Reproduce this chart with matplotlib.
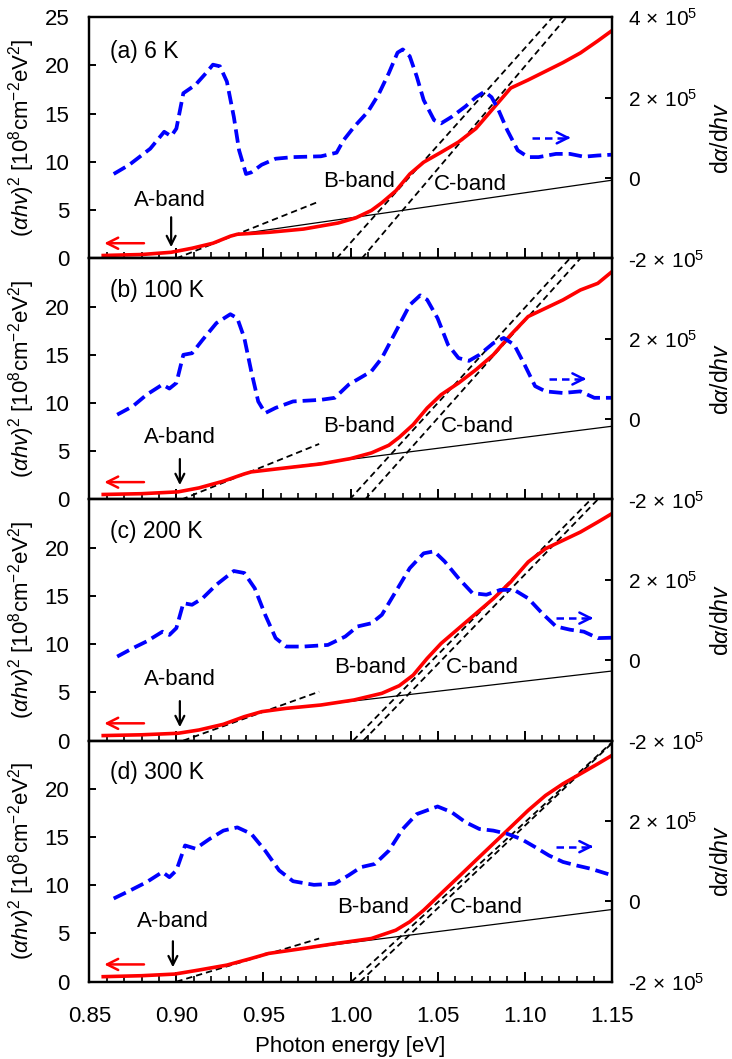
import matplotlib
matplotlib.use('Agg')
import matplotlib.pyplot as plt
from matplotlib.ticker import MultipleLocator, FormatStrFormatter

plt.rcParams['font.family'] = ['Liberation Sans', 'DejaVu Sans']
plt.rcParams['mathtext.fontset'] = 'custom'
plt.rcParams['mathtext.rm'] = 'Liberation Sans'
plt.rcParams['mathtext.it'] = 'Liberation Sans:italic'
plt.rcParams['mathtext.bf'] = 'Liberation Sans:bold'

# ---------------- data ----------------
panel_labels = ['(a) 6 K', '(b) 100 K', '(c) 200 K', '(d) 300 K']
band_labels = ['A-band', 'B-band', 'C-band']

# (alpha h nu)^2 curves [1e8 cm^-2 eV^2]
red_x_a = [0.858, 0.880, 0.897, 0.909, 0.921, 0.931, 0.935, 0.953, 0.973, 0.993, 1.003, 1.012, 1.018, 1.026,
           1.034, 1.042, 1.052, 1.062, 1.072, 1.082, 1.092, 1.102, 1.112, 1.122, 1.132, 1.142, 1.150]
red_y_a = [0.30, 0.40, 0.63, 1.05, 1.57, 2.30, 2.50, 2.70, 3.04, 3.67, 4.20, 4.97, 5.77, 7.00,
           8.74, 9.97, 11.00, 12.06, 13.46, 15.56, 17.66, 18.50, 19.40, 20.30, 21.30, 22.55, 23.60]
red_x_b = [0.858, 0.880, 0.901, 0.913, 0.927, 0.939, 0.943, 0.963, 0.983, 1.000, 1.012, 1.022, 1.028, 1.036,
           1.044, 1.052, 1.062, 1.072, 1.082, 1.092, 1.102, 1.112, 1.122, 1.132, 1.142, 1.150]
red_y_b = [0.52, 0.60, 0.79, 1.20, 1.90, 2.65, 2.86, 3.28, 3.69, 4.24, 4.83, 5.62, 6.45, 7.76,
           9.48, 10.86, 12.07, 13.45, 15.00, 17.07, 18.97, 19.83, 20.69, 21.72, 22.41, 23.60]
red_x_c = [0.858, 0.880, 0.901, 0.913, 0.927, 0.939, 0.949, 0.963, 0.983, 1.002, 1.018, 1.028, 1.036, 1.044,
           1.052, 1.062, 1.072, 1.082, 1.092, 1.102, 1.112, 1.122, 1.132, 1.142, 1.150]
red_y_c = [0.52, 0.60, 0.76, 1.10, 1.69, 2.48, 3.00, 3.34, 3.69, 4.21, 4.90, 5.69, 6.79, 8.52,
           10.07, 11.62, 13.17, 14.72, 16.45, 18.52, 19.90, 20.76, 21.62, 22.66, 23.52]
red_x_d = [0.858, 0.880, 0.899, 0.913, 0.929, 0.943, 0.953, 0.973, 0.992, 1.012, 1.026, 1.034, 1.042, 1.052,
           1.062, 1.072, 1.082, 1.092, 1.102, 1.112, 1.122, 1.132, 1.142, 1.150]
red_y_d = [0.52, 0.62, 0.79, 1.21, 1.72, 2.41, 2.93, 3.45, 3.97, 4.48, 5.34, 6.21, 7.41, 9.14,
           10.86, 12.59, 14.31, 16.03, 17.76, 19.31, 20.52, 21.55, 22.59, 23.45]

# d(alpha)/d(h nu) curves [1e5]
blue_x_a = [0.864, 0.873, 0.885, 0.893, 0.897, 0.900, 0.904, 0.911, 0.917, 0.921, 0.925, 0.929, 0.933, 0.936,
            0.940, 0.943, 0.949, 0.957, 0.967, 0.983, 0.992, 0.996, 1.002, 1.010, 1.016, 1.022, 1.027, 1.030,
            1.034, 1.038, 1.042, 1.048, 1.052, 1.058, 1.066, 1.072, 1.077, 1.081, 1.085, 1.090, 1.096, 1.102,
            1.108, 1.118, 1.126, 1.134, 1.142, 1.150]
blue_y_a = [0.10, 0.33, 0.73, 1.15, 1.04, 1.23, 2.11, 2.32, 2.61, 2.82, 2.78, 2.40, 1.52, 0.69,
            0.10, 0.14, 0.33, 0.48, 0.52, 0.54, 0.63, 0.94, 1.27, 1.65, 2.07, 2.61, 3.12, 3.20,
            3.03, 2.53, 1.94, 1.44, 1.36, 1.52, 1.78, 2.01, 2.15, 2.01, 1.69, 1.19, 0.69, 0.52,
            0.52, 0.60, 0.60, 0.53, 0.56, 0.58]
blue_x_b = [0.866, 0.875, 0.883, 0.892, 0.896, 0.900, 0.904, 0.909, 0.915, 0.923, 0.931, 0.935, 0.939, 0.943,
            0.947, 0.951, 0.957, 0.967, 0.983, 0.991, 0.999, 1.012, 1.018, 1.026, 1.034, 1.040, 1.044, 1.050,
            1.056, 1.062, 1.068, 1.074, 1.082, 1.088, 1.094, 1.100, 1.106, 1.112, 1.122, 1.132, 1.140, 1.150]
blue_y_b = [0.11, 0.32, 0.61, 0.86, 0.76, 0.90, 1.60, 1.64, 1.97, 2.39, 2.61, 2.51, 2.02, 1.19,
            0.44, 0.15, 0.28, 0.44, 0.48, 0.53, 0.86, 1.19, 1.52, 2.18, 2.84, 3.08, 2.97, 2.51,
            1.85, 1.52, 1.45, 1.60, 1.89, 2.02, 1.85, 1.35, 0.82, 0.69, 0.65, 0.69, 0.53, 0.53]
blue_x_c = [0.866, 0.875, 0.883, 0.892, 0.896, 0.900, 0.904, 0.909, 0.915, 0.923, 0.933, 0.939, 0.945, 0.951,
            0.957, 0.963, 0.973, 0.987, 0.997, 1.004, 1.012, 1.018, 1.026, 1.034, 1.042, 1.048, 1.054, 1.062,
            1.070, 1.078, 1.086, 1.094, 1.102, 1.110, 1.118, 1.126, 1.134, 1.142, 1.150]
blue_y_c = [0.09, 0.30, 0.47, 0.71, 0.63, 0.80, 1.42, 1.38, 1.54, 1.88, 2.22, 2.17, 1.79, 1.13,
            0.55, 0.34, 0.34, 0.38, 0.59, 0.84, 0.92, 1.13, 1.71, 2.29, 2.66, 2.71, 2.46, 2.04,
            1.67, 1.63, 1.75, 1.75, 1.54, 1.17, 0.84, 0.76, 0.71, 0.55, 0.56]
blue_x_d = [0.864, 0.873, 0.883, 0.892, 0.896, 0.900, 0.905, 0.911, 0.919, 0.927, 0.935, 0.943, 0.951, 0.959,
            0.967, 0.979, 0.991, 0.999, 1.006, 1.014, 1.022, 1.030, 1.038, 1.050, 1.058, 1.066, 1.074, 1.082,
            1.090, 1.098, 1.106, 1.114, 1.122, 1.130, 1.138, 1.150]
blue_y_d = [0.07, 0.26, 0.48, 0.73, 0.60, 0.77, 1.39, 1.31, 1.55, 1.76, 1.84, 1.68, 1.26, 0.77,
            0.50, 0.41, 0.44, 0.65, 0.85, 0.93, 1.26, 1.80, 2.17, 2.36, 2.22, 1.97, 1.80, 1.76,
            1.68, 1.55, 1.35, 1.14, 0.98, 0.89, 0.81, 0.65]

# fitted straight lines: (x0, y0, x1, y1)
fitA = [(0.900, 0.0, 0.982, 5.90), (0.903, 0.0, 0.982, 5.76), (0.904, 0.0, 0.982, 5.07), (0.900, 0.0, 0.982, 4.48)]
base = [(0.933, 2.45, 1.150, 8.10), (0.943, 2.86, 1.150, 7.59), (0.949, 3.00, 1.150, 7.21), (0.951, 2.93, 1.150, 7.48)]
fitB = [(0.992, 0.0, 1.116, 25.0), (0.9995, 0.0, 1.126, 25.0), (1.0015, 0.0, 1.138, 25.0), (1.0005, 0.0, 1.150, 24.8)]
fitC = [(1.0065, 0.0, 1.124, 25.0), (1.0084, 0.0, 1.132, 25.0), (1.0074, 0.0, 1.142, 25.0), (1.0055, 0.0, 1.150, 24.7)]

reds = [(red_x_a, red_y_a), (red_x_b, red_y_b), (red_x_c, red_y_c), (red_x_d, red_y_d)]
blues = [(blue_x_a, blue_y_a), (blue_x_b, blue_y_b), (blue_x_c, blue_y_c), (blue_x_d, blue_y_d)]

# ---------------- annotation layout ----------------
title_pos = [(0.862, 21.4), (0.862, 21.7), (0.862, 21.7), (0.862, 21.7)]
bandA_pos = [(0.896, 6.0), (0.902, 6.4), (0.902, 6.3), (0.898, 6.2)]
bandB_pos = [(1.005, 8.0), (1.005, 7.6), (1.011, 7.55), (1.013, 7.7)]
bandC_pos = [(1.069, 7.7), (1.073, 7.6), (1.076, 7.55), (1.078, 7.7)]
black_arrow = [(0.897, 4.55, 0.87), (0.902, 4.48, 1.2), (0.902, 4.38, 1.1), (0.898, 4.48, 1.2)]
red_arrow_y = [1.57, 1.8, 1.79, 1.79]
blue_arrow = [(1.104, 1.128, 12.5), (1.114, 1.137, 12.5), (1.118, 1.141, 12.7), (1.118, 1.141, 14.0)]

fig, axes = plt.subplots(4, 1, figsize=(7.32, 10.59), dpi=100, sharex=True)
fig.subplots_adjust(left=0.122, right=0.8357, top=0.9837, bottom=0.073, hspace=0)

ylab = r'($\alpha hv$)$^2$ [10$^8$cm$^{-2}$eV$^2$]'
for i, ax in enumerate(axes):
    ax2 = ax.twinx()
    ax.set_xlim(0.85, 1.15)
    ax.set_ylim(0, 25)
    ax2.set_ylim(-2, 4)

    fa, bs, fb, fc = fitA[i], base[i], fitB[i], fitC[i]
    ax.plot([fa[0], fa[2]], [fa[1], fa[3]], color='k', lw=1.3, dashes=(3.5, 2.2))
    ax.plot([bs[0], bs[2]], [bs[1], bs[3]], color='k', lw=0.9)
    ax.plot([fb[0], fb[2]], [fb[1], fb[3]], color='k', lw=1.3, dashes=(3.5, 2.2))
    ax.plot([fc[0], fc[2]], [fc[1], fc[3]], color='k', lw=1.3, dashes=(3.5, 2.2))
    ax.plot(reds[i][0], reds[i][1], color='#ff0000', lw=2.6, solid_joinstyle='round')
    ax2.plot(blues[i][0], blues[i][1], color='#0000ff', lw=2.7, dashes=(3.6, 1.6))

    # texts
    ax.text(*title_pos[i], panel_labels[i], fontsize=16.5, va='center', ha='left')
    ax.text(*bandA_pos[i], band_labels[0], fontsize=16, va='center', ha='center')
    ax.text(*bandB_pos[i], band_labels[1], fontsize=16, va='center', ha='center')
    ax.text(*bandC_pos[i], band_labels[2], fontsize=16, va='center', ha='center')

    # arrows
    bx, by0, by1 = black_arrow[i]
    ax.annotate('', xy=(bx, by1), xytext=(bx, by0),
                arrowprops=dict(arrowstyle='->', color='k', lw=1.6, mutation_scale=16))
    ry = red_arrow_y[i]
    ax.annotate('', xy=(0.857, ry), xytext=(0.883, ry),
                arrowprops=dict(arrowstyle='->', color='#ff0000', lw=1.8, mutation_scale=20))
    x0, x1, yb = blue_arrow[i]
    ax.plot([x0, x1 - 0.004], [yb, yb], color='#0000ff', lw=1.8, dashes=(3, 2))
    ax.annotate('', xy=(x1, yb), xytext=(x1 - 0.006, yb),
                arrowprops=dict(arrowstyle='->', color='#0000ff', lw=1.8, mutation_scale=20))

    # axes style
    for sp in list(ax.spines.values()) + list(ax2.spines.values()):
        sp.set_linewidth(1.6)
    ax.xaxis.set_major_locator(MultipleLocator(0.05))
    ax.xaxis.set_minor_locator(MultipleLocator(0.01))
    ax.tick_params(axis='x', which='major', direction='in', length=7, width=1.4, labelsize=16, pad=17.5)
    ax.tick_params(axis='x', which='minor', direction='in', length=4, width=1.2)
    if i == 0:
        ax.set_yticks([0, 5, 10, 15, 20, 25])
        ax2.set_yticks([-2, 0, 2, 4])
        ax2.set_yticklabels([r'-2$\,\times\,$10$^5$', '0', r'2$\,\times\,$10$^5$', r'4$\,\times\,$10$^5$'])
    else:
        ax.set_yticks([0, 5, 10, 15, 20])
        ax2.set_yticks([-2, 0, 2])
        ax2.set_yticklabels([r'-2$\,\times\,$10$^5$', '0', r'2$\,\times\,$10$^5$'])
    ax.tick_params(axis='y', direction='in', length=5, width=1.4, labelsize=16, pad=14.5)
    ax2.tick_params(axis='y', direction='in', length=5, width=1.4, labelsize=15, pad=11.5)
    ax.set_ylabel(ylab, fontsize=16)
    ax.yaxis.set_label_coords(-0.100, 0.5)
    ax2.set_ylabel(r'd$\alpha$/d$hv$', fontsize=16.5)
    ax2.yaxis.set_label_coords(1.188, 0.5)
    if i < 3:
        ax.tick_params(axis='x', labelbottom=False)

axes[-1].set_xlabel('Photon energy [eV]', fontsize=16, labelpad=6.5)
axes[-1].xaxis.set_major_formatter(FormatStrFormatter('%.2f'))

fig.savefig('out.png', dpi=100)
